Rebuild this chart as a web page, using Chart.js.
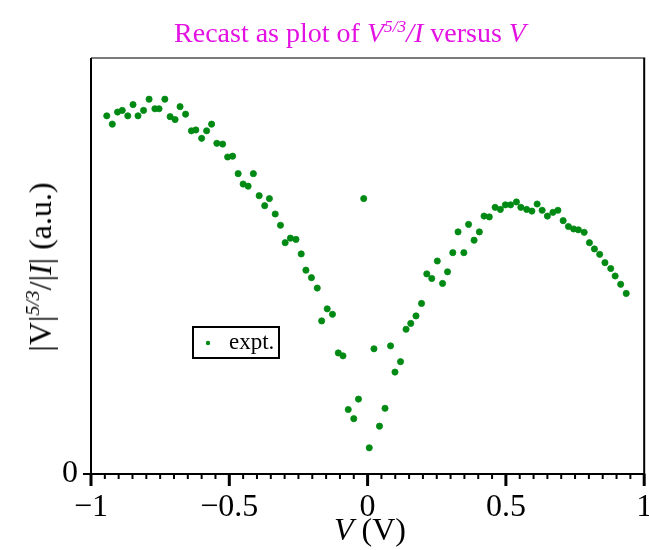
<!DOCTYPE html>
<html>
<head>
<meta charset="utf-8">
<script src="https://cdn.jsdelivr.net/npm/chart.js@4.4.1/dist/chart.umd.min.js"></script>
<style>
  html, body { margin: 0; padding: 0; background: #fff; }
  #wrap { position: relative; width: 649px; height: 550px; overflow: hidden; font-family: "Liberation Serif", "DejaVu Serif", serif; }
  #c { position: absolute; left: 0; top: 0; }
  .lbl { position: absolute; white-space: nowrap; line-height: 1; }
  .sup { position: relative; top: -0.6em; font-size: 0.62em; }
  #title { left: 0; width: 700px; top: 19px; text-align: center; font-size: 28px; color: #e312e3; }
  #xtitle { left: 320px; width: 100px; top: 513px; text-align: center; font-size: 32px; color: #000; }
  #ytitle { left: 40px; top: 267px; font-size: 32px; color: #000; transform: translate(-50%, -50%) rotate(-90deg); }
</style>
</head>
<body>
<div id="wrap">
  <canvas id="c" width="649" height="550"></canvas>
  <div id="title" class="lbl">Recast as plot of <i>V<span class="sup">5/3</span>/I</i> versus <i>V</i></div>
  <div id="xtitle" class="lbl"><i>V</i> (V)</div>
  <div id="ytitle" class="lbl">|V|<i class="sup">5/3</i>/|<i>I</i>| (a.u.)</div>
</div>
<script>
// measured points, V in volts, |V|^5/3/|I| in arbitrary units
const seriesName = "expt.";
const voltage = [
  -0.943, -0.923, -0.904, -0.887, -0.867, -0.848, -0.830, -0.810, -0.790, -0.769,
  -0.754, -0.733, -0.714, -0.696, -0.678, -0.658, -0.637, -0.621, -0.600, -0.582,
  -0.564, -0.545, -0.524, -0.506, -0.488, -0.468, -0.450, -0.432, -0.413, -0.392,
  -0.372, -0.355, -0.334, -0.315, -0.298, -0.279, -0.259, -0.240, -0.223, -0.203,
  -0.182, -0.166, -0.146, -0.127, -0.106, -0.089, -0.070, -0.050, -0.033, -0.014,
  0.006, 0.023, 0.043, 0.063, 0.083, 0.099, 0.119, 0.139, 0.156, 0.175,
  0.195, 0.214, 0.232, 0.252, 0.271, 0.289, 0.308, 0.327, 0.348, 0.365,
  0.385, 0.404, 0.421, 0.440, 0.461, 0.480, 0.498, 0.517, 0.538, 0.554,
  0.575, 0.594, 0.613, 0.631, 0.650, 0.670, 0.688, 0.707, 0.726, 0.745,
  0.762, 0.783, 0.802, 0.820, 0.839, 0.858, 0.879, 0.895, 0.915, 0.935
];
const signal = [
  86.1, 84.1, 87.0, 87.4, 86.1, 88.8, 86.1, 87.4, 90.1, 87.8,
  87.8, 90.1, 85.9, 85.2, 88.3, 86.5, 82.5, 82.7, 80.7, 82.5,
  84.1, 79.5, 79.3, 76.2, 76.4, 72.2, 69.7, 69.2, 72.2, 66.9,
  64.5, 66.2, 62.5, 59.8, 55.6, 56.7, 56.4, 52.9, 49.0, 47.2,
  44.7, 36.8, 39.7, 38.4, 29.1, 28.4, 15.5, 13.3, 18.0, 66.2,
  6.3, 30.1, 11.5, 15.8, 30.8, 24.5, 27.0, 34.8, 36.2, 38.0,
  41.0, 48.1, 47.0, 51.2, 45.8, 48.6, 53.2, 58.2, 53.2, 60.0,
  56.2, 58.2, 62.0, 61.8, 64.1, 63.6, 64.7, 64.7, 65.4, 64.1,
  63.6, 63.2, 64.9, 63.4, 62.0, 62.9, 63.4, 60.9, 59.5, 58.9,
  58.7, 58.1, 55.6, 54.1, 52.8, 50.8, 49.4, 47.6, 45.6, 43.4
];
const xMin = -1, xMax = 1, xMajor = 0.5, xMinor = 0.05;
const yMin = 0, yMax = 100;

const green = "#008a14";

const frame = {
  id: "frame",
  afterDraw(chart) {
    const { ctx, chartArea: a, scales } = chart;
    ctx.save();
    // top edge (grey), left and right edges
    ctx.fillStyle = "#7a7a7a";
    ctx.fillRect(a.left, a.top - 1, a.right - a.left + 1, 2);
    ctx.fillStyle = "#000";
    ctx.fillRect(a.left - 1, a.top, 2, a.bottom - a.top);
    ctx.fillRect(a.right - 1, a.top, 2, a.bottom - a.top);
    // axis line, running out a little to the left
    ctx.fillRect(a.left - 8, a.bottom - 1, a.right - a.left + 9, 2);
    // ticks below the axis: long at majors, short at minors
    const n = Math.round((xMax - xMin) / xMinor);
    const step = Math.round(xMajor / xMinor);
    for (let i = 0; i <= n; i++) {
      const px = scales.x.getPixelForValue(xMin + i * xMinor);
      if (i % step === 0) {
        ctx.fillRect(px - 1.5, a.bottom, 3, 12);
      } else {
        ctx.fillRect(px - 1, a.bottom, 2, 5);
      }
    }
    // legend box
    const bx = 193, by = 327, bw = 86, bh = 31;
    ctx.lineWidth = 2;
    ctx.strokeStyle = "#000";
    ctx.fillStyle = "#fff";
    ctx.fillRect(bx, by, bw, bh);
    ctx.strokeRect(bx, by, bw, bh);
    ctx.fillStyle = green;
    ctx.beginPath();
    ctx.arc(bx + 15, by + 16, 2.2, 0, Math.PI * 2);
    ctx.fill();
    ctx.fillStyle = "#000";
    ctx.font = '23px "Liberation Serif", serif';
    ctx.textBaseline = "alphabetic";
    ctx.fillText(chart.data.datasets[0].label, bx + 36, by + 22);
    ctx.restore();
  }
};

new Chart(document.getElementById("c"), {
  type: "scatter",
  data: {
    datasets: [{
      label: seriesName,
      data: voltage.map((v, i) => ({ x: v, y: signal[i] })),
      backgroundColor: green,
      borderColor: green,
      pointRadius: 3.1,
      pointBorderWidth: 0.8,
      pointStyle: "circle",
    }],
  },
  options: {
    responsive: false,
    animation: false,
    events: [],
    layout: { padding: { top: 58, right: 4, left: 0, bottom: 0 } },
    plugins: {
      legend: { display: false },
      tooltip: { enabled: false },
    },
    scales: {
      x: {
        type: "linear",
        min: xMin,
        max: xMax,
        afterFit(scale) {
          scale.height = 76;
          scale.paddingLeft = 0;
          scale.paddingRight = 0;
        },
        ticks: {
          stepSize: xMajor,
          color: "#000",
          padding: 2,
          maxRotation: 0,
          autoSkip: false,
          font: { family: '"Liberation Serif", serif', size: 32 },
          callback: (v) => (v < 0 ? "\u2212" + Math.abs(v) : String(v)),
        },
        grid: { drawOnChartArea: false, drawTicks: true, tickLength: 12, color: "rgba(0,0,0,0)" },
        border: { display: false },
      },
      y: {
        min: yMin,
        max: yMax,
        afterFit(scale) {
          scale.width = 91;
          scale.paddingTop = 0;
          scale.paddingBottom = 0;
        },
        afterBuildTicks(scale) { scale.ticks = [{ value: 0 }]; },
        ticks: {
          color: "#000",
          padding: 6,
          font: { family: '"Liberation Serif", serif', size: 32 },
        },
        grid: { drawOnChartArea: false, drawTicks: true, tickLength: 7, color: "rgba(0,0,0,0)" },
        border: { display: false },
      },
    },
  },
  plugins: [frame],
});
</script>
</body>
</html>
